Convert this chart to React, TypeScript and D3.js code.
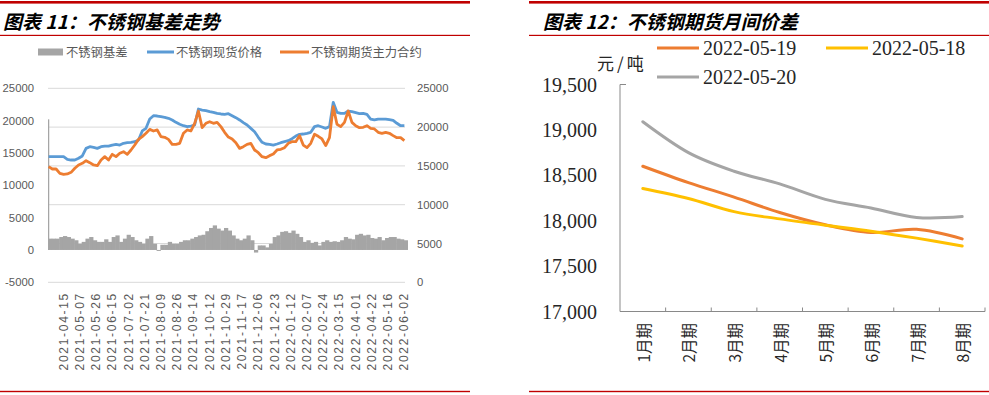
import React, { useRef, useEffect } from "react";
import * as d3 from "d3";

// ---- 图表11：不锈钢基差走势 (one sample every 3 trading days) ----
const tradingDays = 286;
const sampleStep = 3;
const labelFirstDay = 12;
const labelStep = 13;
const dateLabels = [
  "2021-04-15", "2021-05-07", "2021-05-26", "2021-06-15", "2021-07-02", "2021-07-21",
  "2021-08-09", "2021-08-26", "2021-09-14", "2021-10-12", "2021-10-29", "2021-11-17",
  "2021-12-06", "2021-12-23", "2022-01-12", "2022-02-07", "2022-02-24", "2022-03-15",
  "2022-04-01", "2022-04-22", "2022-05-16", "2022-06-02",
];

const spotPrice = [
  16190, 16190, 16190, 16190, 16190, 15850, 15760, 15760, 15980, 16280, 17260, 17480,
  17390, 17260, 17480, 17560, 17560, 17690, 17780, 17690, 17910, 17990, 18040, 18120,
  18340, 19500, 19840, 21040, 21470, 21430, 21340, 21260, 21130, 20920, 20610, 20360,
  20180, 20060, 20140, 20270, 22330, 22200, 22120, 21990, 21900, 21770, 21690, 21650,
  21730, 21470, 21220, 20920, 20570, 20270, 19840, 19410, 18680, 18040, 17820, 17780,
  17690, 17820, 17990, 18120, 18250, 18510, 18850, 19070, 19110, 19200, 19330, 20060,
  20180, 20010, 19840, 20060, 23190, 21900, 21770, 21770, 22070, 21990, 21860, 21730,
  21770, 21650, 21040, 20920, 21040, 21040, 21040, 20960, 20870, 20490, 20180, 20180,
];

const futuresPrice = [
  14900, 14600, 14600, 14040, 13910, 13960, 14170, 14690, 15120, 15330, 15670, 15420,
  15120, 15030, 15760, 16190, 15760, 16490, 16190, 16620, 16830, 16490, 17050, 17690,
  18420, 18770, 19200, 19710, 19500, 19630, 18770, 18680, 18420, 17780, 17780, 17910,
  19200, 19630, 19500, 20490, 22070, 19930, 20490, 20700, 20490, 20610, 20060, 19330,
  18720, 18470, 17990, 17260, 17480, 17780, 17910, 17050, 16700, 16190, 16060, 16320,
  16530, 17050, 17140, 17350, 17910, 18120, 18120, 18900, 17690, 17350, 17910, 19070,
  18810, 18470, 17610, 18640, 22630, 20360, 20060, 20610, 22070, 20610, 20180, 19930,
  19970, 20180, 19840, 19760, 19330, 19200, 19330, 19200, 18900, 18640, 18640, 18250,
];

const basis = [
  1750, 1750, 1750, 2000, 2150, 2000, 1750, 1500, 950, 1250, 1750, 2000,
  1500, 1250, 1250, 1650, 1250, 2000, 2250, 1250, 1750, 2350, 2000, 1500,
  1250, 950, 1750, 2150, 950, -150, 800, 800, 1250, 950, 950, 1250,
  1500, 1500, 1750, 2000, 2250, 2350, 2900, 3400, 3800, 3300, 3000, 3400,
  3000, 2250, 1750, 1500, 1750, 2250, 1500, -400, 700, 700, 400, 950,
  2000, 2250, 2800, 2900, 2650, 3000, 2500, 2000, 1250, 1500, 1100, 1250,
  700, 1250, 1500, 1250, 1350, 1250, 1500, 2000, 1750, 1650, 2350, 2500,
  2250, 2350, 1850, 1750, 2000, 1500, 1850, 2000, 2000, 1750, 1650, 1500,
];
const firstDayBasis = 20200;

const leftTicks = [-5000, 0, 5000, 10000, 15000, 20000, 25000];
const rightTicks = [0, 5000, 10000, 15000, 20000, 25000];

// ---- 图表12：不锈钢期货月间价差 ----
const months = ["1月期", "2月期", "3月期", "4月期", "5月期", "6月期", "7月期", "8月期"];
const spread0519 = [18600, 18420, 18260, 18090, 17955, 17870, 17905, 17800];
const spread0518 = [18355, 18245, 18100, 18020, 17950, 17885, 17808, 17722];
const spread0520 = [19090, 18750, 18545, 18405, 18235, 18140, 18035, 18045];
const spreadTicks = [17000, 17500, 18000, 18500, 19000, 19500];

const RED = "#c00000";
const CJK = "'Noto Sans CJK SC', sans-serif";

function drawFrame(g, x0, x1, title) {
  g.append("rect").attr("x", x0).attr("y", 1).attr("width", x1 - x0).attr("height", 2.6).attr("fill", RED);
  g.append("rect").attr("x", x0).attr("y", 34.8).attr("width", x1 - x0).attr("height", 1.2).attr("fill", RED);
  g.append("rect").attr("x", x0).attr("y", 390.8).attr("width", x1 - x0).attr("height", 1.4).attr("fill", RED);
  g.append("text")
    .attr("x", title.x)
    .attr("y", 20)
    .attr("dominant-baseline", "central")
    .style("font-family", CJK)
    .style("font-size", "19px")
    .style("font-weight", "bold")
    .style("font-style", "italic")
    .attr("fill", "#000")
    .text(title.text);
}

function drawBasis(g) {
  drawFrame(g, 0, 470, { x: 3, text: "图表 11：不锈钢基差走势" });

  const x = d3.scaleBand().domain(d3.range(tradingDays)).range([48, 405]);
  const bw = x.bandwidth();
  const dayX = (d) => x(d) + bw / 2;
  const yLeft = d3.scaleLinear().domain([-5000, 25000]).range([282.3, 88.3]);
  const yRight = d3.scaleLinear().domain([0, 25000]).range([282.3, 88.3]);

  g.selectAll(".grid")
    .data(rightTicks)
    .join("line")
    .attr("class", "grid")
    .attr("x1", 48)
    .attr("x2", 405)
    .attr("y1", (d) => yRight(d))
    .attr("y2", (d) => yRight(d))
    .attr("stroke", "#d9d9d9")
    .attr("stroke-width", 1);

  // basis columns, each sample covers 3 trading days
  g.selectAll(".basis")
    .data(basis)
    .join("rect")
    .attr("class", "basis")
    .attr("x", (d, i) => x(i * sampleStep))
    .attr("width", bw * sampleStep + 0.5)
    .attr("y", (d) => yLeft(Math.max(0, d)))
    .attr("height", (d) => Math.abs(yLeft(d) - yLeft(0)))
    .attr("fill", "#a5a5a5");

  g.append("rect")
    .attr("x", x(0))
    .attr("width", bw)
    .attr("y", yLeft(firstDayBasis))
    .attr("height", yLeft(0) - yLeft(firstDayBasis))
    .attr("fill", "#a5a5a5");

  const line = d3
    .line()
    .x((d, i) => dayX(i * sampleStep))
    .y((d) => yRight(d));

  [
    { values: spotPrice, color: "#5b9bd5" },
    { values: futuresPrice, color: "#ed7d31" },
  ].forEach((s) => {
    g.append("path")
      .datum(s.values)
      .attr("d", line)
      .attr("fill", "none")
      .attr("stroke", s.color)
      .attr("stroke-width", 2.8)
      .attr("stroke-linejoin", "round");
  });

  const tickStyle = (sel) =>
    sel
      .style("font-family", "'Liberation Sans', Arial, sans-serif")
      .style("font-size", "11.3px")
      .attr("fill", "#595959")
      .attr("dominant-baseline", "central");

  g.selectAll(".ly")
    .data(leftTicks)
    .join("text")
    .attr("class", "ly")
    .attr("x", 34)
    .attr("y", (d) => yLeft(d))
    .attr("text-anchor", "end")
    .call(tickStyle)
    .text((d) => d);

  g.selectAll(".ry")
    .data(rightTicks)
    .join("text")
    .attr("class", "ry")
    .attr("x", 417)
    .attr("y", (d) => yRight(d))
    .attr("text-anchor", "start")
    .call(tickStyle)
    .text((d) => d);

  g.selectAll(".xl")
    .data(dateLabels)
    .join("text")
    .attr("class", "xl")
    .attr("transform", (d, k) => `translate(${dayX(labelFirstDay + k * labelStep)},292) rotate(-90)`)
    .attr("text-anchor", "end")
    .call(tickStyle)
    .style("font-size", "12px")
    .style("letter-spacing", "1.7px")
    .text((d) => d);

  // legend
  const lg = g.append("g");
  lg.append("rect").attr("x", 38).attr("y", 48.5).attr("width", 25).attr("height", 7).attr("fill", "#a5a5a5");
  lg.append("line").attr("x1", 147).attr("x2", 174).attr("y1", 52).attr("y2", 52).attr("stroke", "#5b9bd5").attr("stroke-width", 3);
  lg.append("line").attr("x1", 280).attr("x2", 309).attr("y1", 52).attr("y2", 52).attr("stroke", "#ed7d31").attr("stroke-width", 3);
  [
    { x: 66, t: "不锈钢基差" },
    { x: 176, t: "不锈钢现货价格" },
    { x: 311, t: "不锈钢期货主力合约" },
  ].forEach((l) => {
    lg.append("text")
      .attr("x", l.x)
      .attr("y", 52)
      .attr("dominant-baseline", "central")
      .style("font-family", CJK)
      .style("font-size", "12.3px")
      .attr("fill", "#595959")
      .text(l.t);
  });
}

function drawSpread(g) {
  drawFrame(g, 529, 989, { x: 543, text: "图表 12：不锈钢期货月间价差" });

  const x = d3.scaleBand().domain(months).range([620, 985]);
  const bw = x.bandwidth();
  const y = d3.scaleLinear().domain([17000, 19500]).range([311.5, 84.5]);
  const axisColor = "#898989";

  g.append("line").attr("x1", 620).attr("x2", 620).attr("y1", y(19500)).attr("y2", y(17000)).attr("stroke", axisColor);
  g.append("line").attr("x1", 620).attr("x2", 626).attr("y1", y(19500)).attr("y2", y(19500)).attr("stroke", axisColor);
  g.append("line").attr("x1", 620).attr("x2", 985).attr("y1", y(17000)).attr("y2", y(17000)).attr("stroke", axisColor);

  g.selectAll(".xt")
    .data(months)
    .join("line")
    .attr("class", "xt")
    .attr("x1", (d) => x(d) + bw)
    .attr("x2", (d) => x(d) + bw)
    .attr("y1", y(17000))
    .attr("y2", y(17000) - 4)
    .attr("stroke", axisColor);

  g.selectAll(".yl")
    .data(spreadTicks)
    .join("text")
    .attr("class", "yl")
    .attr("x", 597)
    .attr("y", (d) => y(d))
    .attr("text-anchor", "end")
    .attr("dominant-baseline", "central")
    .style("font-family", "'Liberation Serif', 'Times New Roman', serif")
    .style("font-size", "20px")
    .attr("fill", "#262626")
    .text((d) => d3.format(",")(d));

  g.selectAll(".xl")
    .data(months)
    .join("text")
    .attr("class", "xl")
    .attr("transform", (d) => `translate(${x(d) + bw / 2},323) rotate(-90)`)
    .attr("text-anchor", "end")
    .attr("dominant-baseline", "central")
    .style("font-family", CJK)
    .style("font-size", "15.5px")
    .attr("fill", "#262626")
    .text((d) => d);

  g.append("text")
    .attr("x", 597)
    .attr("y", 62)
    .attr("dominant-baseline", "central")
    .style("font-family", CJK)
    .style("font-size", "17px")
    .style("letter-spacing", "3px")
    .attr("fill", "#262626")
    .text("元/吨");

  const series = [
    { name: "2022-05-19", values: spread0519, color: "#ed7d31", lx: 657, ly: 48 },
    { name: "2022-05-18", values: spread0518, color: "#ffc000", lx: 826, ly: 48 },
    { name: "2022-05-20", values: spread0520, color: "#a5a5a5", lx: 657, ly: 77 },
  ];

  const line = d3
    .line()
    .x((d, i) => x(months[i]) + bw / 2)
    .y((d) => y(d))
    .curve(d3.curveCardinal);

  series.forEach((s) => {
    g.append("path")
      .datum(s.values)
      .attr("d", line)
      .attr("fill", "none")
      .attr("stroke", s.color)
      .attr("stroke-width", 3)
      .attr("stroke-linecap", "round");

    g.append("line")
      .attr("x1", s.lx)
      .attr("x2", s.lx + 42)
      .attr("y1", s.ly)
      .attr("y2", s.ly)
      .attr("stroke", s.color)
      .attr("stroke-width", 3);
    g.append("text")
      .attr("x", s.lx + 46)
      .attr("y", s.ly)
      .attr("dominant-baseline", "central")
      .style("font-family", "'Liberation Serif', 'Times New Roman', serif")
      .style("font-size", "20px")
      .attr("fill", "#262626")
      .text(s.name);
  });
}

const App = () => {
  const svgRef = useRef(null);

  useEffect(() => {
    const svg = d3.select(svgRef.current);
    svg.selectAll("*").remove();
    drawBasis(svg.append("g"));
    drawSpread(svg.append("g"));
  }, []);

  return (
    <div style={{ position: "absolute", left: 0, top: 0 }}>
      <svg ref={svgRef} width={989} height={395} style={{ display: "block", background: "#fff" }} />
    </div>
  );
};

export default App;
